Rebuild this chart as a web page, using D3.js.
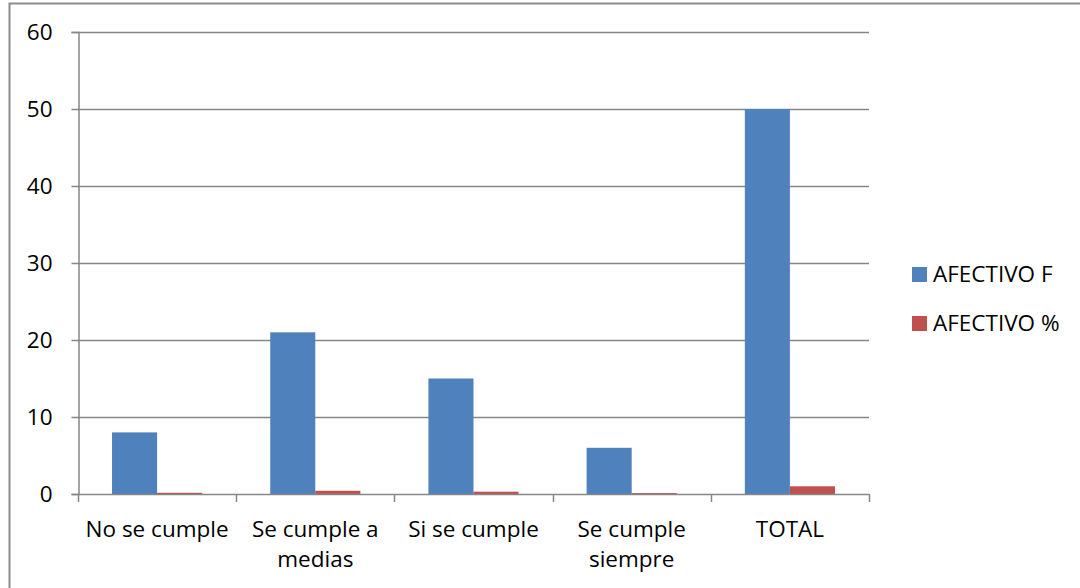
<!DOCTYPE html>
<html>
<head>
<meta charset="utf-8">
<script src="https://cdn.jsdelivr.net/npm/d3@7/dist/d3.min.js"></script>
<style>
  html, body { margin: 0; padding: 0; background: #fff; }
  svg { display: block; font-family: "Open Sans", "Liberation Sans", sans-serif; }
</style>
</head>
<body>
<svg id="chart" width="1080" height="588"></svg>
<script>
// Categories and series
const categories = [["No se cumple"], ["Se cumple a", "medias"], ["Si se cumple"], ["Se cumple", "siempre"], ["TOTAL"]];
const seriesNames = ["AFECTIVO F", "AFECTIVO %"];
const afectivoF = [8, 21, 15, 6, 50];
const afectivoPct = [0.16, 0.42, 0.30, 0.12, 1.0];
const yTicks = [0, 10, 20, 30, 40, 50, 60];
const colors = ["#4F81BD", "#C0504D"];

const svg = d3.select("#chart");
const margin = { left: 78, top: 32, right: 869, bottom: 494 };
const gridColor = "#868686";
const fontSize = 22.5;

// Outer frame
svg.append("rect")
  .attr("x", 9.5).attr("y", 3.5)
  .attr("width", 1100).attr("height", 620)
  .attr("fill", "none").attr("stroke", "#8c8c8c").attr("stroke-width", 2);

const keys = categories.map((c, i) => i);
const x = d3.scaleBand().domain(keys).range([margin.left, margin.right]).paddingInner(0).paddingOuter(0);
const xs = d3.scaleBand().domain([0, 1]).range([0, x.bandwidth()]).paddingInner(0).paddingOuter(0.755);
const y = d3.scaleLinear().domain([0, 60]).range([margin.bottom, margin.top]);

// Horizontal grid lines
svg.append("g").selectAll("line").data(yTicks.filter(t => t > 0)).join("line")
  .attr("x1", margin.left).attr("x2", margin.right)
  .attr("y1", d => Math.round(y(d)) + 0.5).attr("y2", d => Math.round(y(d)) + 0.5)
  .attr("stroke", gridColor).attr("stroke-width", 1.5);

// Bars
const rows = keys.map(i => [afectivoF[i], afectivoPct[i]]);
const gBars = svg.append("g");
rows.forEach((vals, i) => {
  gBars.selectAll(null).data(vals).join("rect")
    .attr("x", (d, j) => x(i) + xs(j))
    .attr("width", xs.bandwidth())
    .attr("y", d => y(d))
    .attr("height", d => y(0) - y(d))
    .attr("fill", (d, j) => colors[j]);
});

// Y axis
const yAxis = d3.axisLeft(y).tickValues(yTicks).tickSize(7).tickPadding(19).tickFormat(d3.format("d"));
const gy = svg.append("g").attr("transform", `translate(${margin.left + 0.5},0)`).call(yAxis);
gy.attr("font-family", null).attr("font-size", null);
gy.select(".domain").attr("stroke", gridColor).attr("stroke-width", 1.5);
gy.selectAll(".tick line").attr("stroke", gridColor).attr("stroke-width", 1.5);
gy.selectAll(".tick text").attr("font-size", fontSize).attr("fill", "#000");

// X axis
const xEdges = d3.range(categories.length + 1).map(i => margin.left + i * x.bandwidth());
const gx = svg.append("g");
gx.append("line").attr("x1", margin.left).attr("x2", margin.right)
  .attr("y1", margin.bottom + 0.5).attr("y2", margin.bottom + 0.5)
  .attr("stroke", gridColor).attr("stroke-width", 1.5);
gx.selectAll("line.tk").data(xEdges).join("line").attr("class", "tk")
  .attr("x1", d => Math.round(d) + 0.5).attr("x2", d => Math.round(d) + 0.5)
  .attr("y1", margin.bottom).attr("y2", margin.bottom + 8)
  .attr("stroke", gridColor).attr("stroke-width", 1.5);

const labels = gx.selectAll("text").data(categories).join("text")
  .attr("x", (d, i) => x(i) + x.bandwidth() / 2)
  .attr("y", 537)
  .attr("text-anchor", "middle").attr("font-size", fontSize).attr("fill", "#000");
labels.selectAll("tspan").data(d => d).join("tspan")
  .attr("x", function() { return this.parentNode.getAttribute("x"); })
  .attr("dy", (d, k) => k === 0 ? 0 : 30)
  .text(d => d);

// Legend
const legend = svg.append("g");
seriesNames.forEach((name, i) => {
  const ly = 267 + i * 49;
  legend.append("rect").attr("x", 912).attr("y", ly).attr("width", 15).attr("height", 15).attr("fill", colors[i]);
  legend.append("text").attr("x", 933).attr("y", ly + 15).attr("font-size", fontSize).attr("fill", "#000").text(name);
});
</script>
</body>
</html>
